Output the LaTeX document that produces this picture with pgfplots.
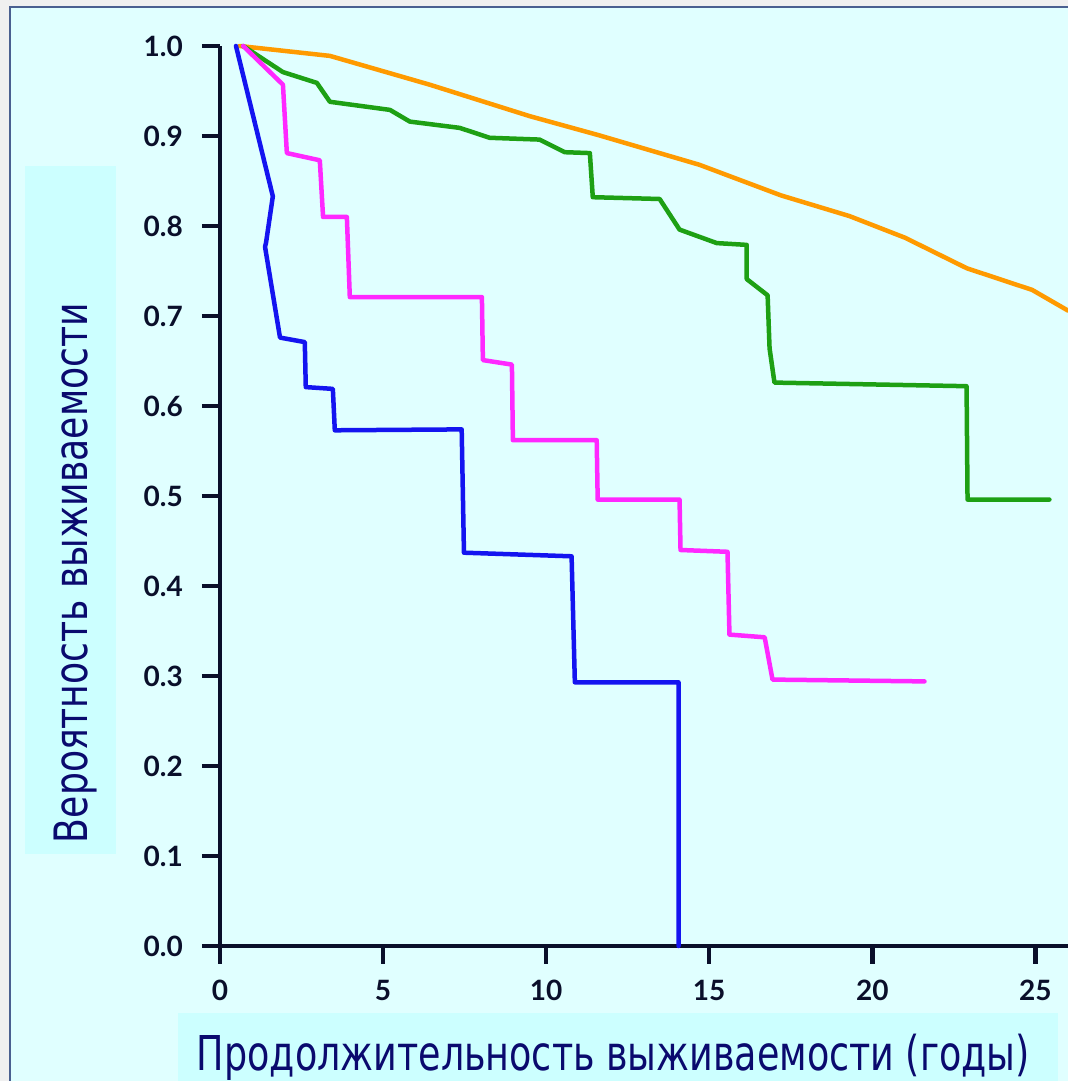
\documentclass[border=0pt]{standalone}
\usepackage{pgfplots}
\pgfplotsset{compat=1.18}
\usepackage{fontspec}
\usepackage{graphicx}
\setmainfont{Lato}
\newfontfamily\labelfont{DejaVu Sans Condensed}
\definecolor{bgcyan}{HTML}{E0FFFF}
\definecolor{boxcyan}{HTML}{CCFFFF}
\definecolor{outergray}{HTML}{F0F0F0}
\definecolor{framecol}{HTML}{4A6090}
\definecolor{axiscol}{HTML}{0A0F2A}
\definecolor{labelcol}{HTML}{0A0A6E}
\definecolor{ccorange}{HTML}{FF9A00}
\definecolor{ccgreen}{HTML}{1EA014}
\definecolor{ccmagenta}{HTML}{FF28FF}
\definecolor{ccblue}{HTML}{1414F0}
\begin{document}
\begin{tikzpicture}
\useasboundingbox (-220bp,-135bp) rectangle (848bp,946bp);
\clip (-220bp,-135bp) rectangle (848bp,946bp);
\fill[outergray] (-220bp,-135bp) rectangle (848bp,946bp);
\filldraw[fill=bgcyan, draw=framecol, line width=2.5bp] (-210bp,-160bp) rectangle (870bp,939bp);
\fill[boxcyan] (-195bp,92bp) rectangle (-104bp,780bp);
\fill[boxcyan] (-42bp,-67bp) rectangle (838bp,-150bp);
\begin{axis}[
  scale only axis,
  width=848bp, height=900bp,
  xmin=0, xmax=26, ymin=0, ymax=1,
  axis lines*=left,
  axis line style={axiscol, line width=4.5bp},
  tick style={axiscol, line width=4.5bp},
  tick align=outside,
  major tick length=18bp,
  xtick={0,5,10,15,20,25},
  ytick={0,0.1,0.2,0.3,0.4,0.5,0.6,0.7,0.8,0.9,1.0},
  yticklabels={0.0,0.1,0.2,0.3,0.4,0.5,0.6,0.7,0.8,0.9,1.0},
  /pgf/number format/assume math mode=true,
  ticklabel style={font=\fontsize{28bp}{30bp}\selectfont\bfseries, text=axiscol},
  yticklabel style={anchor=east, inner sep=0pt, xshift=-19bp},
  xticklabel style={anchor=north, inner sep=0pt, yshift=-16bp},
  clip=false,
  every axis plot/.append style={line width=4.5bp, line join=round, line cap=round},
]
\addplot[ccorange] coordinates {
(0.6,1.0) (3.37,0.989) (6.43,0.957) (9.5,0.922) (11.6,0.901) (14.7,0.868)
(17.2,0.834) (19.3,0.811) (21.0,0.787) (22.9,0.753) (24.9,0.729) (26.0,0.706)};
\addplot[ccgreen] coordinates {
(0.71,1.0) (1.93,0.971) (2.97,0.959) (3.37,0.938) (5.21,0.929) (5.82,0.916)
(7.35,0.909) (8.27,0.898) (9.8,0.896) (10.57,0.882) (11.34,0.881) (11.43,0.832)
(13.48,0.830) (14.09,0.796) (15.23,0.781) (16.15,0.779) (16.15,0.741) (16.79,0.723)
(16.85,0.664) (17.0,0.626) (22.89,0.622) (22.92,0.496) (25.43,0.496)};
\addplot[ccmagenta] coordinates {
(0.71,1.0) (1.93,0.957) (2.05,0.881) (3.06,0.873) (3.16,0.81) (3.89,0.81)
(3.98,0.721) (8.03,0.721) (8.06,0.651) (8.95,0.646) (8.98,0.562) (11.55,0.562)
(11.58,0.496) (14.09,0.496) (14.12,0.44) (15.56,0.438) (15.62,0.346) (16.7,0.343)
(16.94,0.296) (21.6,0.294)};
\addplot[ccblue] coordinates {
(0.49,1.0) (1.62,0.833) (1.41,0.781) (1.38,0.777) (1.84,0.676) (2.6,0.671)
(2.63,0.621) (3.46,0.619) (3.52,0.573) (7.41,0.574) (7.48,0.437) (10.78,0.433)
(10.88,0.293) (14.06,0.293) (14.06,0.0)};
\end{axis}
\node[anchor=base, inner sep=0pt, text=labelcol] at (393.5bp,-124bp)
  {\resizebox{833bp}{\height}{\labelfont\fontsize{48bp}{50bp}\selectfont Продолжительность выживаемости (годы)}};
\node[anchor=base, inner sep=0pt, text=labelcol, rotate=90] at (-132bp,373bp)
  {\resizebox{540bp}{\height}{\labelfont\fontsize{46bp}{48bp}\selectfont Вероятность выживаемости}};
\end{tikzpicture}
\end{document}
